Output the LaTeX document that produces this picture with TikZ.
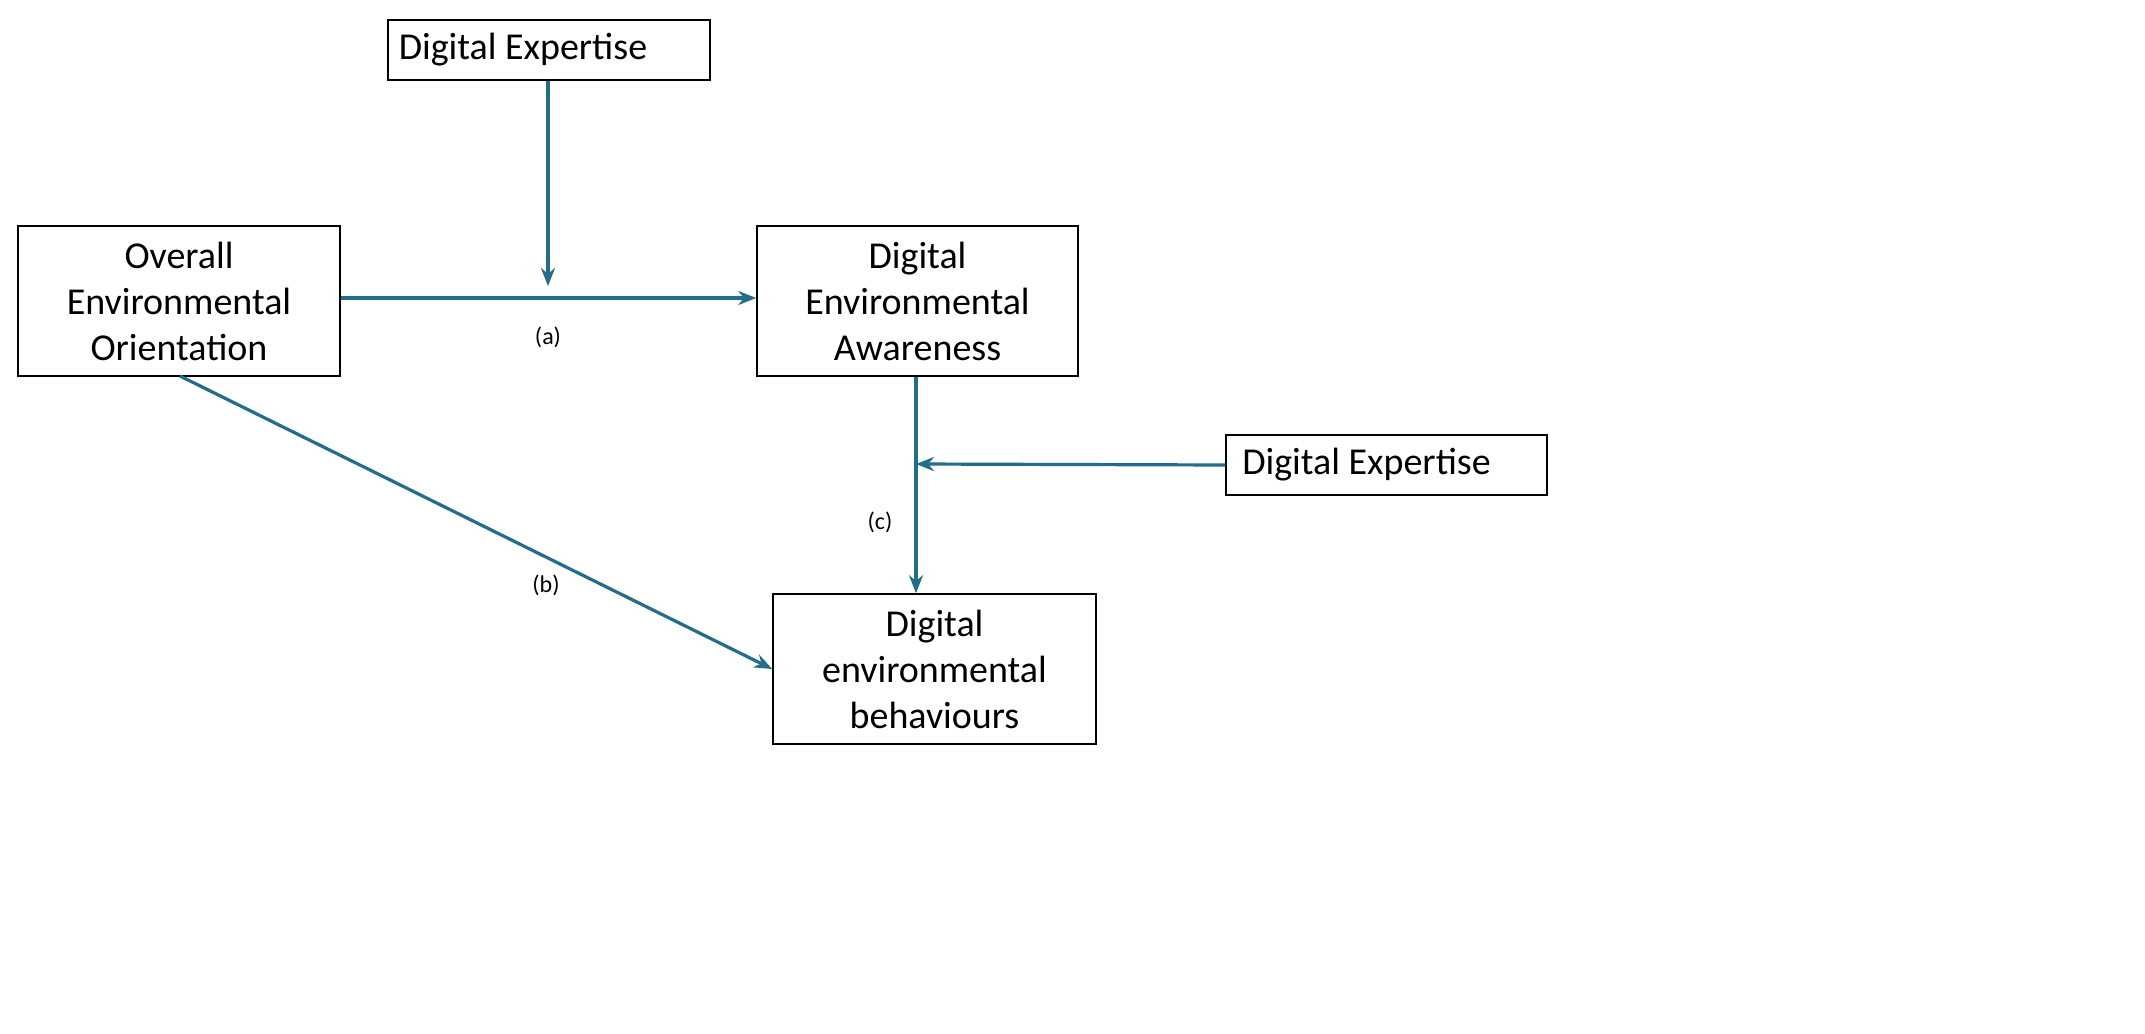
\documentclass[tikz,border=0pt]{standalone}
\usepackage{fontspec}
\setmainfont{Carlito}
\usetikzlibrary{arrows.meta}
\begin{document}
\begin{tikzpicture}[x=0.017573cm,y=-0.017573cm,
  box/.style={draw=black,line width=0.8pt,inner sep=0pt,font=\fontsize{19}{23}\selectfont,align=center},
  conn/.style={draw={rgb,255:red,31;green,110;blue,140},line width=1.6pt,-{Stealth[length=9pt,width=7pt]}},
  lab/.style={font=\fontsize{12}{14}\selectfont}]
\fill[white] (0,0) rectangle (2145,1034);
\useasboundingbox (0,0) rectangle (2145,1034);
\node[box,minimum width=161pt,minimum height=30pt] (de1) at (549,50) {\hspace*{4pt}Digital Expertise\hspace*{30pt}};
\node[box,minimum width=161pt,minimum height=75pt] (oeo) at (179,301) {Overall\\Environmental\\Orientation};
\node[box,minimum width=160.5pt,minimum height=75pt] (dea) at (917.5,301) {Digital\\Environmental\\Awareness};
\node[box,minimum width=160.5pt,minimum height=30pt] (de2) at (1386.5,465) {Digital Expertise\hspace*{20pt}};
\node[box,minimum width=161.5pt,minimum height=75pt] (deb) at (934.5,669) {Digital\\environmental\\behaviours};
\coordinate (m1) at (548,298);
\coordinate (m2) at (916,464);
\draw[conn] (de1.south -| m1) -- ([yshift=6pt]m1);
\draw[conn] (oeo.east |- m1) -- (dea.west |- m1);
\draw[conn] (dea.south -| m2) -- (deb.north -| m2);
\draw[conn] (de2.west) -- (m2);
\draw[conn] (180,376) -- (deb.west);
\node[lab] (la) at (548,337) {(a)};
\node[lab] (lb) at (546,585) {(b)};
\node[lab] (lc) at (880,522) {(c)};
\end{tikzpicture}
\end{document}
